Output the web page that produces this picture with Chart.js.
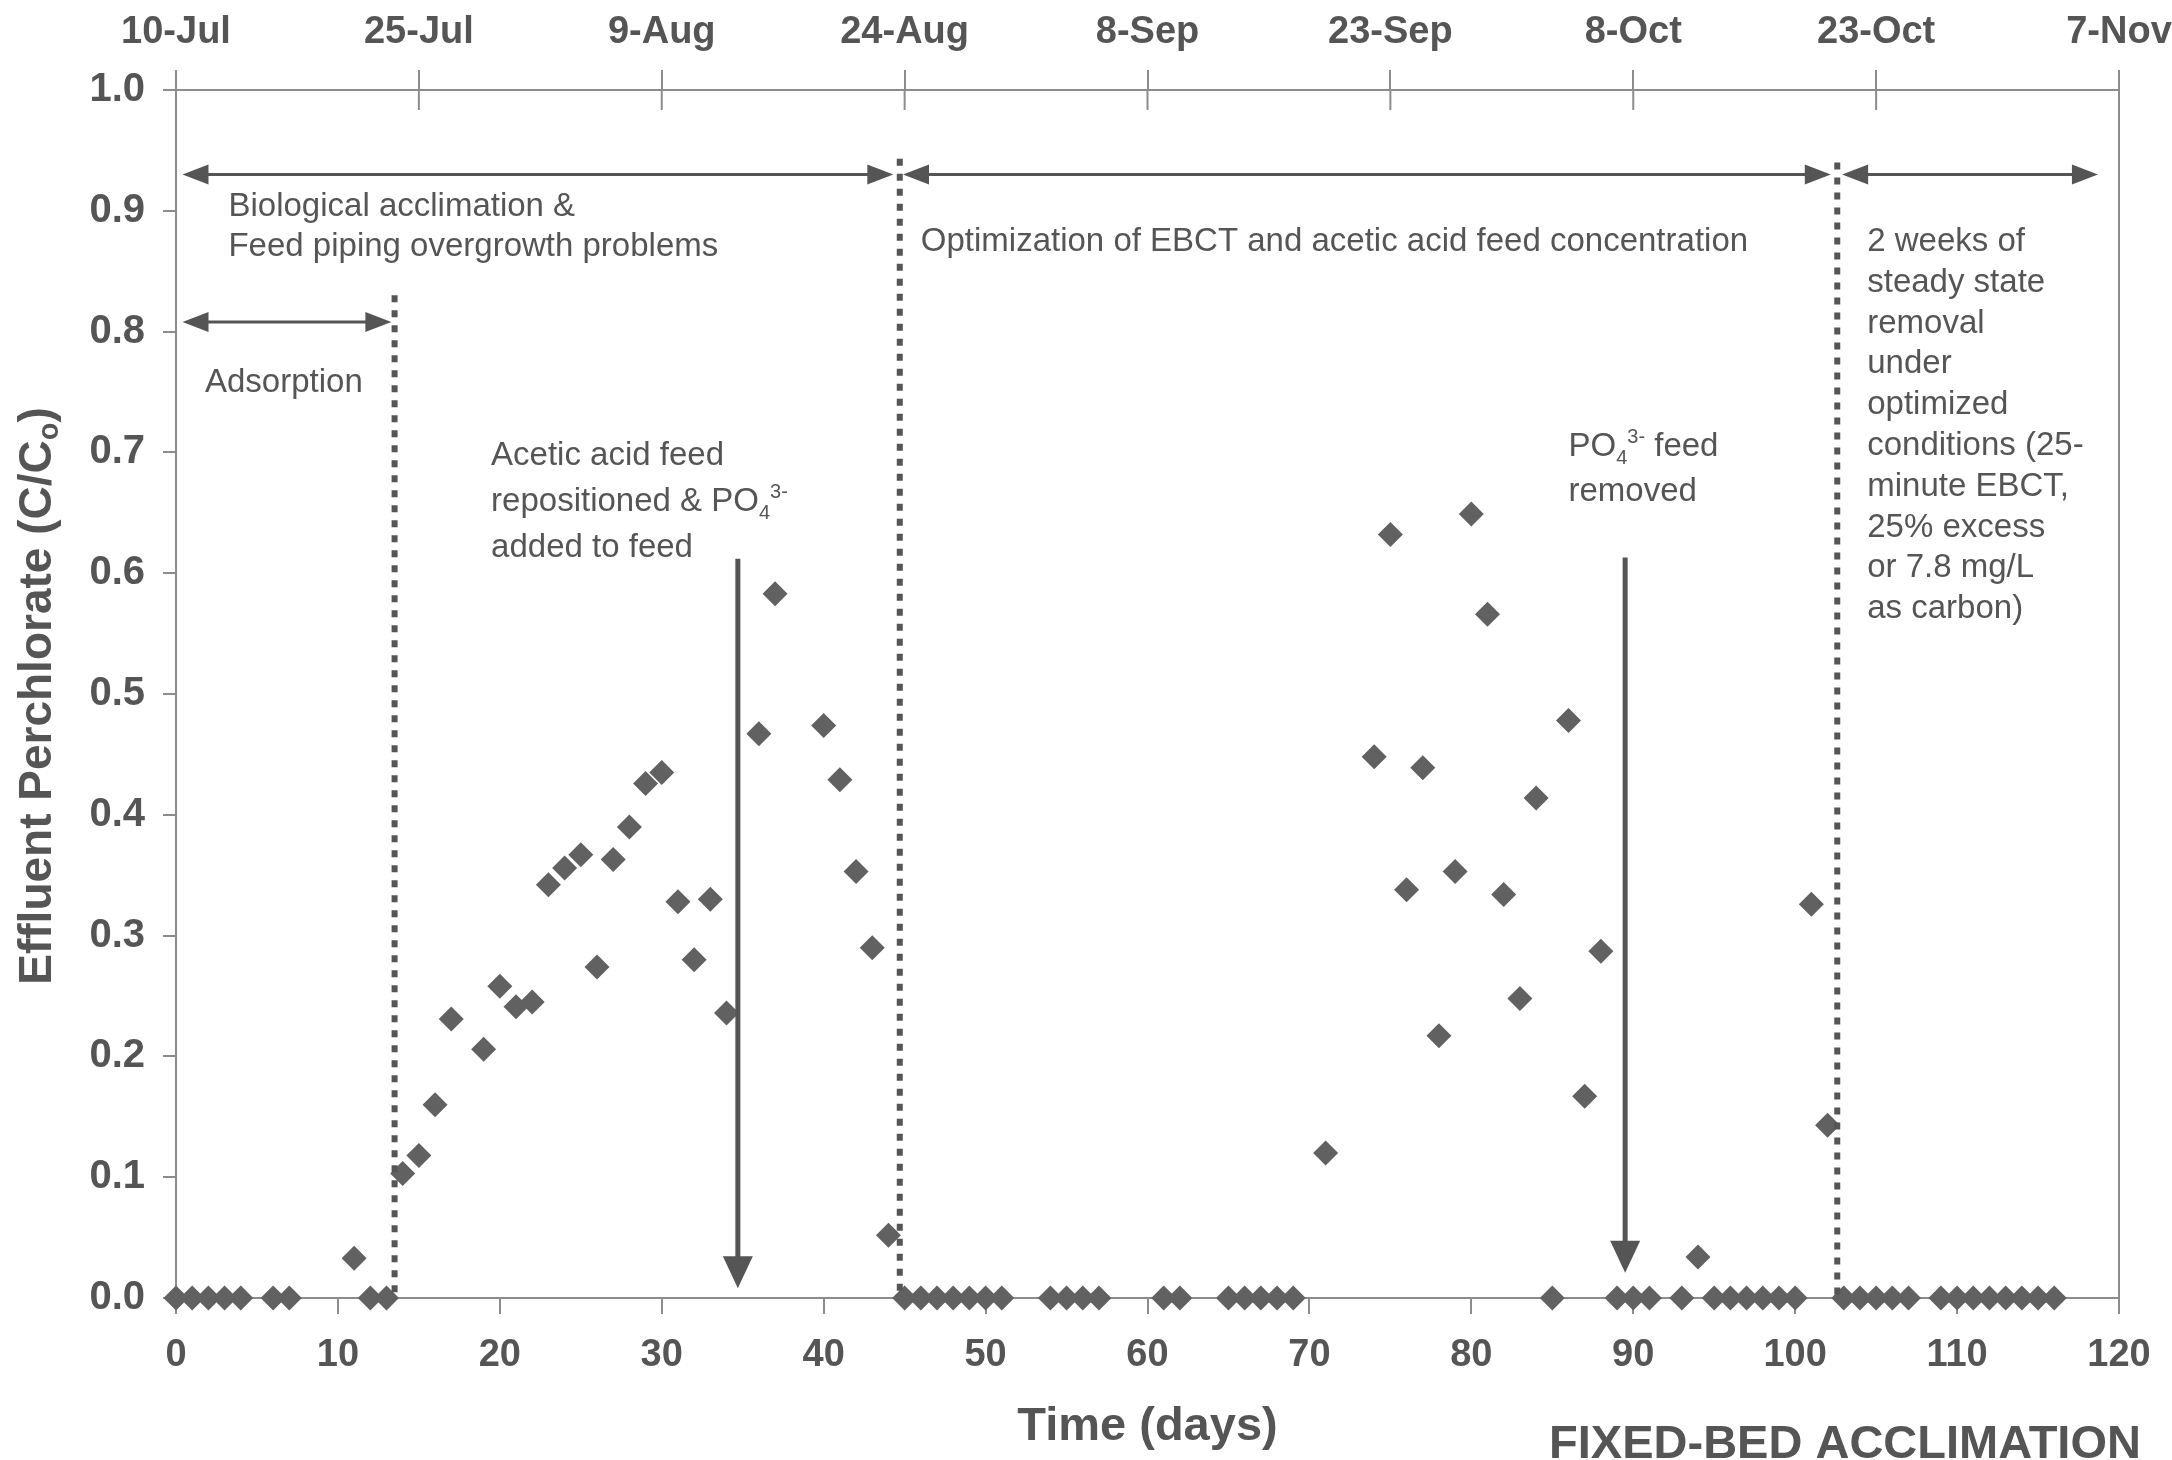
<!DOCTYPE html>
<html>
<head>
<meta charset="utf-8">
<script src="https://cdn.jsdelivr.net/npm/chart.js@4.4.1/dist/chart.umd.min.js"></script>
<style>
html,body{margin:0;padding:0;background:#ffffff;overflow:hidden;}
#wrap{width:2172px;height:1460px;}
canvas{display:block;}
</style>
</head>
<body>
<div id="wrap"><canvas id="c" width="2172" height="1460"></canvas></div>
<script>
// ---- Data ----
const days = [0,1,2,3,4,6,7,11,12,13,14,15,16,17,19,20,21,22,23,24,25,26,27,28,29,30,31,32,33,34,36,37,40,41,42,43,44,
  45,46,47,48,49,50,51,54,55,56,57,61,62,65,66,67,68,69,
  71,74,75,76,77,78,79,80,81,82,83,84,85,86,87,88,89,90,91,93,94,95,96,97,98,99,100,101,102,
  103,104,105,106,107,109,110,111,112,113,114,115,116];
const ratio = [0,0,0,0,0,0,0,0.033,0,0,0.103,0.118,0.160,0.231,0.206,0.258,0.241,0.245,0.342,0.356,0.367,0.274,0.363,0.390,0.426,0.435,0.328,0.280,0.330,0.236,0.467,0.583,0.474,0.429,0.353,0.290,0.052,
  0,0,0,0,0,0,0,0,0,0,0,0,0,0,0,0,0,0,
  0.120,0.448,0.632,0.338,0.439,0.217,0.353,0.649,0.566,0.334,0.248,0.414,0,0.478,0.167,0.287,0,0,0,0,0.034,0,0,0,0,0,0,0.326,0.143,
  0,0,0,0,0,0,0,0,0,0,0,0,0];
const dateLabels = ['10-Jul','25-Jul','9-Aug','24-Aug','8-Sep','23-Sep','8-Oct','23-Oct','7-Nov'];
const yTickLabels = ['0.0','0.1','0.2','0.3','0.4','0.5','0.6','0.7','0.8','0.9','1.0'];

// ---- Annotations (data coordinates) ----
const hArrows = [
  {x1:0.4, x2:44.3, y:0.93},
  {x1:44.9, x2:102.2, y:0.93},
  {x1:102.9, x2:118.7, y:0.93},
  {x1:0.4, x2:13.3, y:0.808}
];
const dottedLines = [
  {x:13.5, y1:0, y2:0.83},
  {x:44.7, y1:0, y2:0.943},
  {x:102.6, y1:0, y2:0.94}
];
const vArrows = [
  {x:34.7, y1:0.612, y2:0.008},
  {x:89.5, y1:0.613, y2:0.021}
];
const notes = [
  {x:3.24, y:0.8957, lh:40, lines:[[{t:'Biological acclimation &'}],[{t:'Feed piping overgrowth problems'}]]},
  {x:1.79, y:0.750, lh:40, lines:[[{t:'Adsorption'}]]},
  {x:46.0, y:0.8667, lh:40, lines:[[{t:'Optimization of EBCT and acetic acid feed concentration'}]]},
  {x:104.45, y:0.8667, lh:40.8, lines:[[{t:'2 weeks of'}],[{t:'steady state'}],[{t:'removal'}],[{t:'under'}],[{t:'optimized'}],
     [{t:'conditions (25-'}],[{t:'minute EBCT,'}],[{t:'25% excess'}],[{t:'or 7.8 mg/L'}],[{t:'as carbon)'}]]},
  {x:19.46, y:0.6896, lh:46, lines:[[{t:'Acetic acid feed'}],[{t:'repositioned & PO'},{t:'4',s:'sub'},{t:'3-',s:'sup'}],[{t:'added to feed'}]]},
  {x:86.0, y:0.697, lh:45, lines:[[{t:'PO'},{t:'4',s:'sub'},{t:'3-',s:'sup'},{t:' feed'}],[{t:'removed'}]]}
];

const FONT = "'Liberation Sans', Arial, Helvetica, sans-serif";
const TXT = '#555555';
const AX = '#8c8c8c';
const INK = '#555555';
const NOTE_SIZE = 33;

function richText(ctx, x, y, parts, size, weight) {
  let cx = x;
  for (const p of parts) {
    const s = p.s ? Math.round(size * 0.62) : size;
    ctx.font = weight + ' ' + s + 'px ' + FONT;
    const dy = p.s === 'sub' ? size * 0.25 : (p.s === 'sup' ? -size * 0.38 : 0);
    ctx.fillText(p.t, cx, y + dy);
    cx += ctx.measureText(p.t).width;
  }
  return cx - x;
}
function richWidth(ctx, parts, size, weight) {
  let w = 0;
  for (const p of parts) {
    const s = p.s ? Math.round(size * 0.62) : size;
    ctx.font = weight + ' ' + s + 'px ' + FONT;
    w += ctx.measureText(p.t).width;
  }
  return w;
}

const annotPlugin = {
  id: 'annot',
  afterDatasetsDraw(chart) {
    const {ctx, chartArea: a, scales} = chart;
    const x = scales.x, y = scales.y, x2 = scales.x2;
    ctx.save();
    // right frame line
    ctx.strokeStyle = AX; ctx.lineWidth = 2;
    ctx.beginPath(); ctx.moveTo(a.right, a.top); ctx.lineTo(a.right, a.bottom); ctx.stroke();
    // inward part of top ticks
    x2.ticks.forEach(t => {
      const px = x2.getPixelForValue(t.value);
      if (t.value > 0 && t.value < 120) {
        ctx.beginPath(); ctx.moveTo(px, a.top); ctx.lineTo(px, a.top + 20); ctx.stroke();
      }
    });
    // dotted separators
    ctx.strokeStyle = INK; ctx.lineWidth = 6; ctx.setLineDash([7, 8]);
    dottedLines.forEach(d => {
      const px = x.getPixelForValue(d.x);
      ctx.beginPath(); ctx.moveTo(px, y.getPixelForValue(d.y2)); ctx.lineTo(px, y.getPixelForValue(d.y1)); ctx.stroke();
    });
    ctx.setLineDash([]);
    // horizontal double arrows
    ctx.strokeStyle = INK; ctx.fillStyle = INK; ctx.lineWidth = 3;
    const hl = 26, hw = 10;
    hArrows.forEach(h => {
      const p1 = x.getPixelForValue(h.x1), p2 = x.getPixelForValue(h.x2), py = y.getPixelForValue(h.y);
      ctx.beginPath(); ctx.moveTo(p1 + hl - 2, py); ctx.lineTo(p2 - hl + 2, py); ctx.stroke();
      ctx.beginPath(); ctx.moveTo(p1, py); ctx.lineTo(p1 + hl, py - hw); ctx.lineTo(p1 + hl, py + hw); ctx.closePath(); ctx.fill();
      ctx.beginPath(); ctx.moveTo(p2, py); ctx.lineTo(p2 - hl, py - hw); ctx.lineTo(p2 - hl, py + hw); ctx.closePath(); ctx.fill();
    });
    // vertical arrows
    ctx.lineWidth = 5;
    const vl = 32, vw = 15;
    vArrows.forEach(v => {
      const px = x.getPixelForValue(v.x), p1 = y.getPixelForValue(v.y1), p2 = y.getPixelForValue(v.y2);
      ctx.beginPath(); ctx.moveTo(px, p1); ctx.lineTo(px, p2 - vl + 2); ctx.stroke();
      ctx.beginPath(); ctx.moveTo(px, p2); ctx.lineTo(px - vw, p2 - vl); ctx.lineTo(px + vw, p2 - vl); ctx.closePath(); ctx.fill();
    });
    // text notes
    ctx.fillStyle = TXT; ctx.textBaseline = 'alphabetic'; ctx.textAlign = 'left';
    notes.forEach(n => {
      const px = x.getPixelForValue(n.x), py = y.getPixelForValue(n.y);
      n.lines.forEach((ln, i) => richText(ctx, px, py + i * n.lh, ln, NOTE_SIZE, 'normal'));
    });
    ctx.restore();
  },
  afterDraw(chart) {
    const {ctx, chartArea: a} = chart;
    ctx.save();
    ctx.fillStyle = TXT;
    // y-axis title with subscript
    const parts = [{t:'Effluent Perchlorate (C/C'},{t:'o',s:'sub'},{t:')'}];
    const w = richWidth(ctx, parts, 46, 'bold');
    ctx.translate(38, (a.top + a.bottom) / 2 + 2);
    ctx.rotate(-Math.PI / 2);
    ctx.textBaseline = 'middle'; ctx.textAlign = 'left';
    richText(ctx, -w / 2, 0, parts, 46, 'bold');
    ctx.restore();
    // corner label
    ctx.save();
    ctx.fillStyle = TXT; ctx.font = 'bold 47px ' + FONT; ctx.textAlign = 'center'; ctx.textBaseline = 'alphabetic';
    ctx.fillText('FIXED-BED ACCLIMATION', 1845, 1458);
    ctx.restore();
  }
};

const tickFont = {family: FONT, size: 38, weight: 'bold'};
new Chart(document.getElementById('c'), {
  type: 'scatter',
  data: {
    datasets: [{
      data: days.map((d, i) => ({x: d, y: ratio[i]})),
      pointStyle: 'rectRot', pointRadius: 12.5, pointHoverRadius: 12.5,
      backgroundColor: '#616161', borderColor: '#616161', borderWidth: 0,
      showLine: false, clip: false
    }]
  },
  options: {
    responsive: false, animation: false, devicePixelRatio: 1,
    layout: {autoPadding: false, padding: {left: 0, right: 53, top: 0, bottom: 0}},
    plugins: {legend: {display: false}, tooltip: {enabled: false}},
    events: [],
    scales: {
      x: {
        type: 'linear', position: 'bottom', min: 0, max: 120,
        afterFit: s => { s.height = 162; s.paddingLeft = 0; s.paddingRight = 0; },
        ticks: {stepSize: 10, font: tickFont, color: TXT, padding: 19, maxRotation: 0, autoSkip: false},
        grid: {drawOnChartArea: false, tickLength: 16, color: AX, lineWidth: 2},
        border: {color: AX, width: 2},
        title: {display: true, text: 'Time (days)', font: {family: FONT, size: 47, weight: 'bold'}, color: TXT, padding: {top: 0, bottom: 5}}
      },
      x2: {
        type: 'linear', position: 'top', min: 0, max: 120,
        afterFit: s => { s.height = 90; s.paddingLeft = 0; s.paddingRight = 0; },
        ticks: {stepSize: 15, font: tickFont, color: TXT, padding: 15, maxRotation: 0, autoSkip: false,
                callback: (v) => dateLabels[Math.round(v / 15)]},
        grid: {drawOnChartArea: false, tickLength: 20, color: AX, lineWidth: 2},
        border: {color: AX, width: 2}
      },
      y: {
        type: 'linear', position: 'left', min: 0, max: 1,
        afterFit: s => { s.width = 176; s.paddingTop = 0; s.paddingBottom = 0; },
        ticks: {stepSize: 0.1, font: {family: FONT, size: 40, weight: 'bold'}, color: TXT, padding: 18,
                callback: (v) => yTickLabels[Math.round(v * 10)]},
        grid: {drawOnChartArea: false, tickLength: 13, color: AX, lineWidth: 2},
        border: {color: AX, width: 2}
      }
    }
  },
  plugins: [annotPlugin]
});
</script>
</body>
</html>
